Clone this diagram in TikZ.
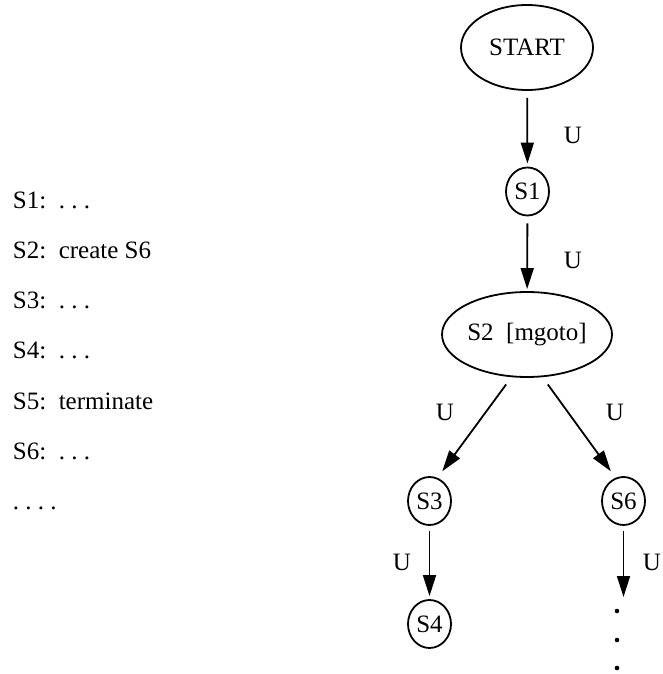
\documentclass[tikz,border=0pt]{standalone}
\usepackage{fontspec}
\setmainfont{Liberation Serif}
\usetikzlibrary{arrows.meta, shapes.geometric}
\tikzset{
  every picture/.style={font=\fontsize{25}{30}\selectfont, line width=1.8pt},
  state/.style={draw, ellipse, inner sep=0pt, minimum width=#1, minimum height=85pt},
  state/.default=132pt,
  small/.style={draw, ellipse, inner sep=0pt, minimum width=43pt, minimum height=48pt},
  arrow/.style={-{Triangle[length=21pt, width=13pt]}},
  lbl/.style={inner sep=0pt},
  code/.style={anchor=base west, inner sep=0pt},
}
\begin{document}
\frenchspacing
\begin{tikzpicture}[x=1pt, y=-1pt]
  \useasboundingbox (0,0) rectangle (662,674);

  % program text
  \foreach \i/\txt in {1/S1:~~. . ., 2/S2:~~create S6, 3/S3:~~. . ., 4/S4:~~. . .,
      5/S5:~~terminate, 6/S6:~~. . ., 7/. . . .} {
    \node[code] (line\i) at (12,208+50.3*\i-50.3) {\txt};
  }

  % the thread tree
  \node[state] (start) at (527,47.5) {START};
  \node[small] (s1) at (527.5,191.5) {S1};
  \node[state=170pt] (s2) at (527,334.5) {S2~~[mgoto]};
  \node[small] (s3) at (429.5,501) {S3};
  \node[small] (s6) at (623.5,501) {S6};
  \node[small] (s4) at (429.5,624) {S4};
  \coordinate (more) at (623.5,597);

  \draw[arrow, shorten <=7pt, shorten >=3pt] (start) -- (s1);
  \draw[arrow, shorten <=7pt, shorten >=2pt] (s1) -- (s2);
  \draw[arrow, shorten <=9pt, shorten >=8pt] (s2.250) -- (s3.71);
  \draw[arrow, shorten <=9pt, shorten >=8pt] (s2.290) -- (s6.109);
  \draw[arrow, shorten <=5pt, shorten >=3pt] (s3) -- (s4);
  \draw[arrow, shorten <=5pt] (s6) -- (more);
  \foreach \y in {611,640,668} { \fill (617,\y) circle (2.3pt); }

  % edge labels
  \foreach \x/\y in {573/135, 573/260, 445/412, 615/412, 402/562, 652/562} {
    \node[lbl] at (\x,\y) {U};
  }
\end{tikzpicture}
\end{document}
